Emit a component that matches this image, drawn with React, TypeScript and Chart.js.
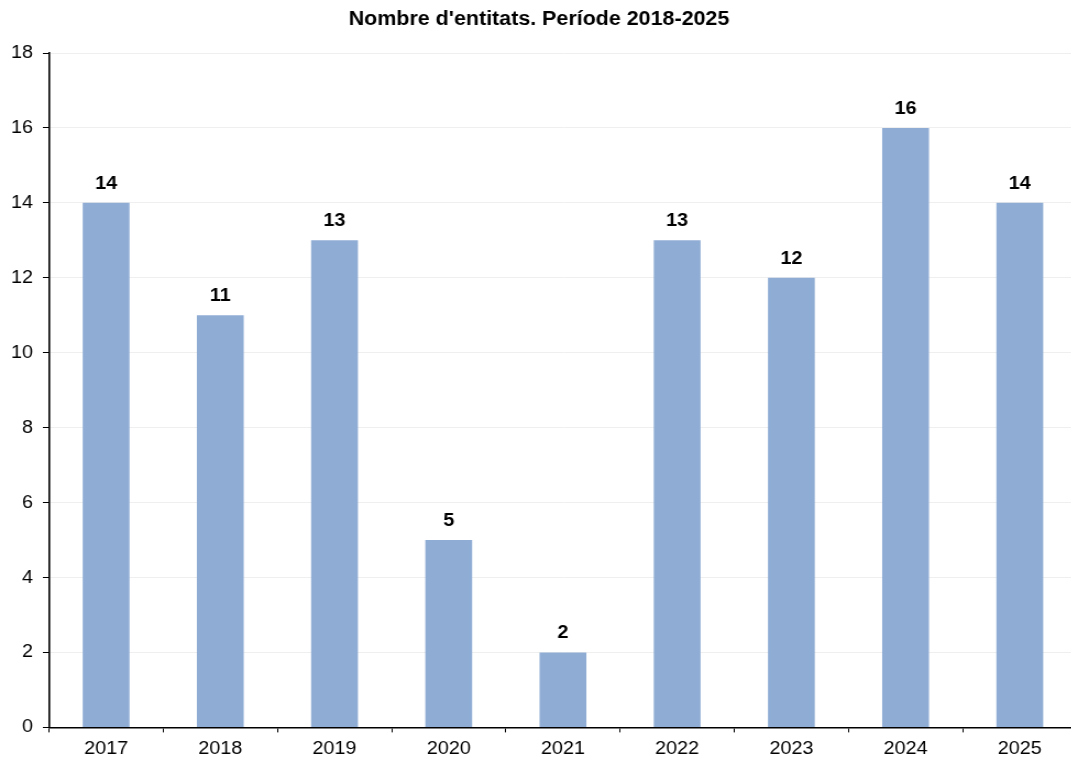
import React, { useEffect, useRef } from "react";
import { Chart, registerables } from "chart.js";

Chart.register(...registerables);

const categories = ["2017", "2018", "2019", "2020", "2021", "2022", "2023", "2024", "2025"];
const values = [14, 11, 13, 5, 2, 13, 12, 16, 14];
const titleText = "Nombre d'entitats. Període 2018-2025";

const FONT = "'Liberation Sans', Arial, sans-serif";
const STRETCH = 1.1;

const labelPlugin = {
  id: "barLabels",
  afterDatasetsDraw(chart: any) {
    const ctx = chart.ctx;
    const meta = chart.getDatasetMeta(0);
    ctx.save();
    ctx.font = `bold 18px ${FONT}`;
    ctx.fillStyle = "#000";
    ctx.textAlign = "center";
    ctx.textBaseline = "alphabetic";
    meta.data.forEach((el: any, i: number) => {
      ctx.fillText(String(values[i]), el.x, el.y - 14);
    });
    ctx.restore();
  },
};

export default function App() {
  const ref = useRef<HTMLCanvasElement | null>(null);
  useEffect(() => {
    if (!ref.current) return;
    const chart = new Chart(ref.current, {
      type: "bar",
      data: {
        labels: categories,
        datasets: [
          {
            data: values,
            backgroundColor: "#8FADD4",
            borderWidth: 0,
            categoryPercentage: 1,
            barPercentage: 0.41,
          },
        ],
      },
      options: {
        animation: false,
        responsive: false,
        devicePixelRatio: 1,
        layout: { padding: { top: 0, right: 3, left: 1, bottom: 3 } },
        plugins: {
          legend: { display: false },
          tooltip: { enabled: false },
          title: {
            display: true,
            text: titleText,
            color: "#000",
            font: { family: FONT, size: 19.5, weight: "bold" },
            padding: { top: 8, bottom: 21.6 },
          },
        },
        scales: {
          x: {
            offset: true,
            grid: {
              offset: true,
              drawOnChartArea: false,
              drawTicks: true,
              tickLength: 5,
              tickColor: "#000",
            },
            border: { color: "#000", width: 1.5 },
            ticks: { color: "#000", font: { family: FONT, size: 18 }, padding: 6 },
          },
          y: {
            min: 0,
            max: 18,
            ticks: { stepSize: 2, color: "#000", font: { family: FONT, size: 18 }, padding: 9 },
            grid: { color: "#efefef", lineWidth: 1, tickLength: 5.5, tickColor: "#000" },
            border: { color: "#000", width: 1.6 },
          },
        },
      },
      plugins: [labelPlugin],
    });
    return () => chart.destroy();
  }, []);
  return (
    <div style={{ position: "absolute", left: 0, top: 0, width: 1071, height: 762, overflow: "hidden", background: "#fff" }}>
      <canvas
        ref={ref}
        width={982}
        height={769}
        style={{ display: "block", transform: `scaleX(${STRETCH})`, transformOrigin: "0 0" }}
      />
    </div>
  );
}
